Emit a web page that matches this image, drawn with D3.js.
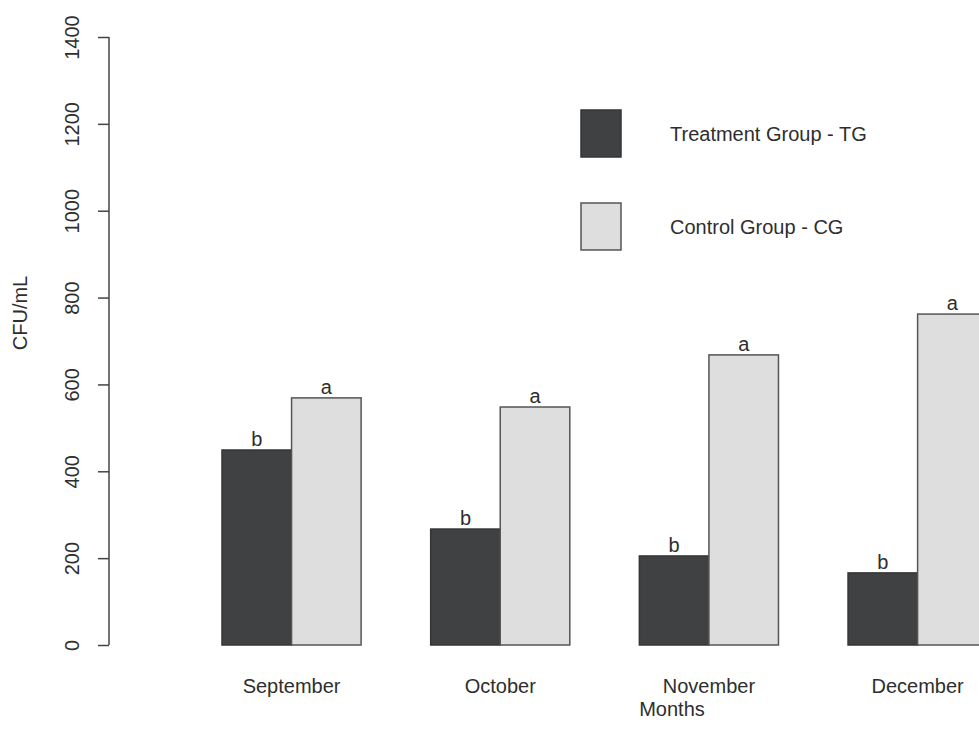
<!DOCTYPE html>
<html>
<head>
<meta charset="utf-8">
<script src="https://cdn.jsdelivr.net/npm/d3@7"></script>
<style>
  html, body { margin: 0; padding: 0; background: #ffffff; }
  svg { display: block; }
  text { font-family: "Liberation Sans", Arial, sans-serif; fill: #2e2e2e; }
</style>
</head>
<body>
<svg id="chart" width="979" height="746"></svg>
<script>
// Monthly CFU/mL counts for the two groups
const months = ["September", "October", "November", "December"];
const groups = ["TG", "CG"];
const groupNames = ["Treatment Group - TG", "Control Group - CG"];
const tgValues = [449, 267, 205, 166];
const cgValues = [569, 548, 668, 762];
const tgLetters = ["b", "b", "b", "b"];
const cgLetters = ["a", "a", "a", "a"];
const yTicks = [0, 200, 400, 600, 800, 1000, 1200, 1400];

const colors = { TG: "#404143", CG: "#dedede" };
const strokes = { TG: "#353535", CG: "#555555" };
const fontSize = 20;

const svg = d3.select("#chart");

const y = d3.scaleLinear().domain([0, 1400]).range([645, 37]);

// Groups of two bars separated by one bar-width gap
const barW = 69.56;
const x0 = d3.scaleBand()
  .domain(months)
  .range([222, 222 + 11 * barW])
  .paddingInner(1 / 3)
  .paddingOuter(0)
  .align(0);
const x1 = d3.scaleBand().domain(groups).range([0, x0.bandwidth()]);

const rows = months.map((m, i) => ({
  month: m,
  bars: [
    { g: "TG", v: tgValues[i], letter: tgLetters[i] },
    { g: "CG", v: cgValues[i], letter: cgLetters[i] }
  ]
}));

const gBars = svg.append("g");
const grp = gBars.selectAll("g.month").data(rows).join("g")
  .attr("class", "month")
  .attr("transform", d => `translate(${x0(d.month)},0)`);

grp.selectAll("rect").data(d => d.bars).join("rect")
  .attr("x", d => x1(d.g))
  .attr("y", d => y(d.v))
  .attr("width", x1.bandwidth())
  .attr("height", d => y(0) - y(d.v))
  .attr("fill", d => colors[d.g])
  .attr("stroke", d => strokes[d.g])
  .attr("stroke-width", 1.5);

// Significance letters above each bar
grp.selectAll("text.letter").data(d => d.bars).join("text")
  .attr("class", "letter")
  .attr("x", d => x1(d.g) + x1.bandwidth() / 2)
  .attr("y", d => y(d.v) - 4)
  .attr("text-anchor", "middle")
  .attr("font-size", fontSize)
  .text(d => d.letter);

// Month labels under each group
svg.append("g").selectAll("text").data(months).join("text")
  .attr("x", d => x0(d) + x0.bandwidth() / 2)
  .attr("y", 693)
  .attr("text-anchor", "middle")
  .attr("font-size", fontSize)
  .text(d => d);

// Y axis with rotated tick labels
const yAxis = d3.axisLeft(y).tickValues(yTicks).tickFormat(d3.format("d")).tickSize(11);
const ga = svg.append("g").attr("transform", "translate(109,0)").call(yAxis);
ga.select(".domain").attr("stroke", "#444").attr("stroke-width", 1.5)
  .attr("d", `M0,${y(1400)}V${y(0)}`);
ga.selectAll(".tick line").attr("stroke", "#444").attr("stroke-width", 1.5);
ga.selectAll(".tick text")
  .attr("font-size", fontSize)
  .attr("font-family", "Liberation Sans, Arial, sans-serif")
  .attr("fill", "#2e2e2e")
  .attr("x", 0)
  .attr("y", 0)
  .attr("dy", "0.35em")
  .attr("text-anchor", "middle")
  .attr("transform", "translate(-37,0) rotate(-90)");

// Axis titles
svg.append("text")
  .attr("transform", "translate(27,313) rotate(-90)")
  .attr("text-anchor", "middle")
  .attr("font-size", fontSize)
  .text("CFU/mL");

svg.append("text")
  .attr("x", 672)
  .attr("y", 716)
  .attr("text-anchor", "middle")
  .attr("font-size", fontSize)
  .text("Months");

// Legend
const legend = svg.append("g");
const legItems = groups.map((g, i) => ({ g, name: groupNames[i], cy: [134, 227][i] }));
legend.selectAll("rect").data(legItems).join("rect")
  .attr("x", 581)
  .attr("y", d => d.cy - 24)
  .attr("width", 40)
  .attr("height", 47)
  .attr("fill", d => colors[d.g])
  .attr("stroke", d => strokes[d.g])
  .attr("stroke-width", 1.5);
legend.selectAll("text").data(legItems).join("text")
  .attr("x", 670)
  .attr("y", d => d.cy)
  .attr("dy", "0.35em")
  .attr("font-size", fontSize)
  .text(d => d.name);
</script>
</body>
</html>
